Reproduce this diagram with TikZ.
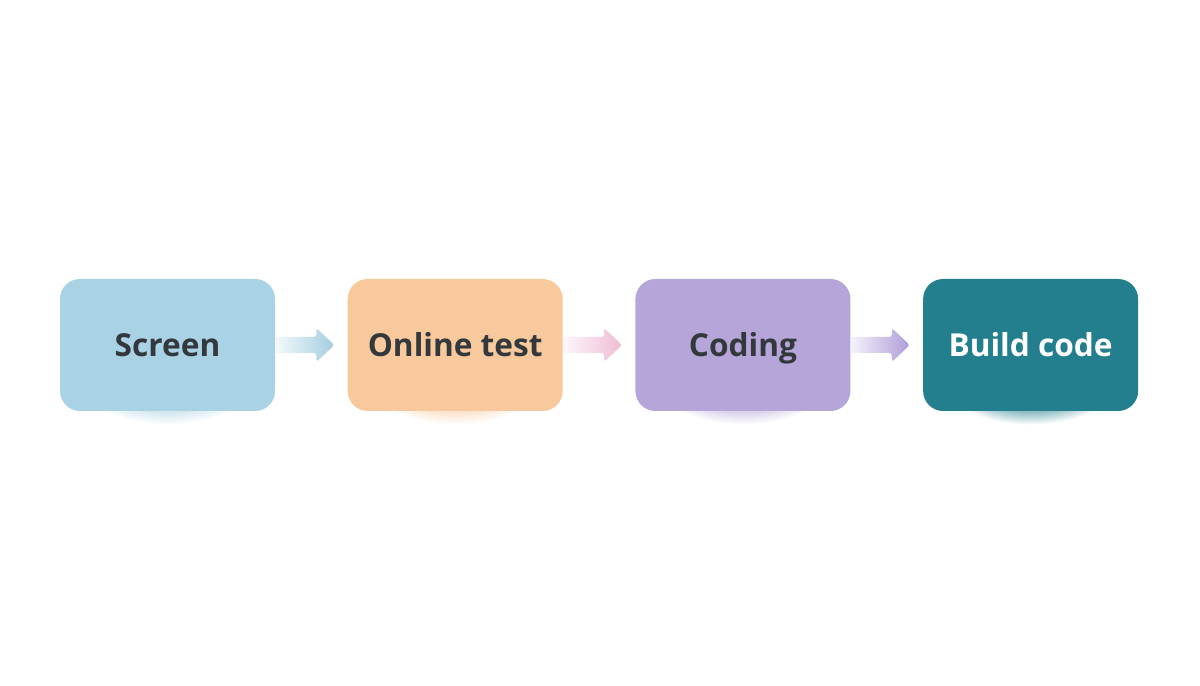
\documentclass[tikz,border=0pt]{standalone}
\usepackage{fontspec}
\setmainfont{Open Sans}
\usetikzlibrary{positioning,calc,shadows,fadings}

\definecolor{scrfill}{HTML}{A9D2E4}
\definecolor{onlfill}{HTML}{F8C99C}
\definecolor{codfill}{HTML}{B5A5D8}
\definecolor{bldfill}{HTML}{237F8D}
\definecolor{txtdark}{HTML}{33383C}
\definecolor{arrowA}{HTML}{A4CDE0}
\definecolor{arrowB}{HTML}{EFBCD4}
\definecolor{arrowC}{HTML}{AE9CD8}

\tikzset{
  stage/.style={rectangle,rounded corners=.4cm,minimum width=4.3cm,minimum height=2.64cm,
    font=\fontsize{18}{21}\selectfont\bfseries,text=txtdark,text height=12.85pt,text depth=0pt,
    general shadow={fill=#1,opacity=.5,shadow yshift=-.35cm,shadow scale=.95,
      path fading=circle with fuzzy edge 20 percent},fill=#1},
}

\begin{document}
\begin{tikzpicture}
\useasboundingbox[fill=white] (0,0) rectangle (24,13.72);
% Stages
\node[stage=scrfill] (scr) at (3.35,6.82) {Screen};
\node[stage=onlfill,right=1.44cm of scr] (onl) {Online test};
\node[stage=codfill,right=1.44cm of onl] (cod) {Coding};
\node[stage=bldfill,text=white,right=1.44cm of cod] (bld) {Build code};
% Block arrows between stages
\foreach \a/\b/\c in {scr/onl/arrowA,onl/cod/arrowB,cod/bld/arrowC}{
  \shade[left color=\c!12,right color=\c,rounded corners=1.5pt]
    ($(\a.east)+(0,.16)$) -- ($(\b.west)+(-.62,.16)$) -- ($(\b.west)+(-.62,.34)$)
    -- ($(\b.west)+(-.26,0)$) -- ($(\b.west)+(-.62,-.34)$) -- ($(\b.west)+(-.62,-.16)$)
    -- ($(\a.east)+(0,-.16)$) -- cycle;
}
\end{tikzpicture}
\end{document}
